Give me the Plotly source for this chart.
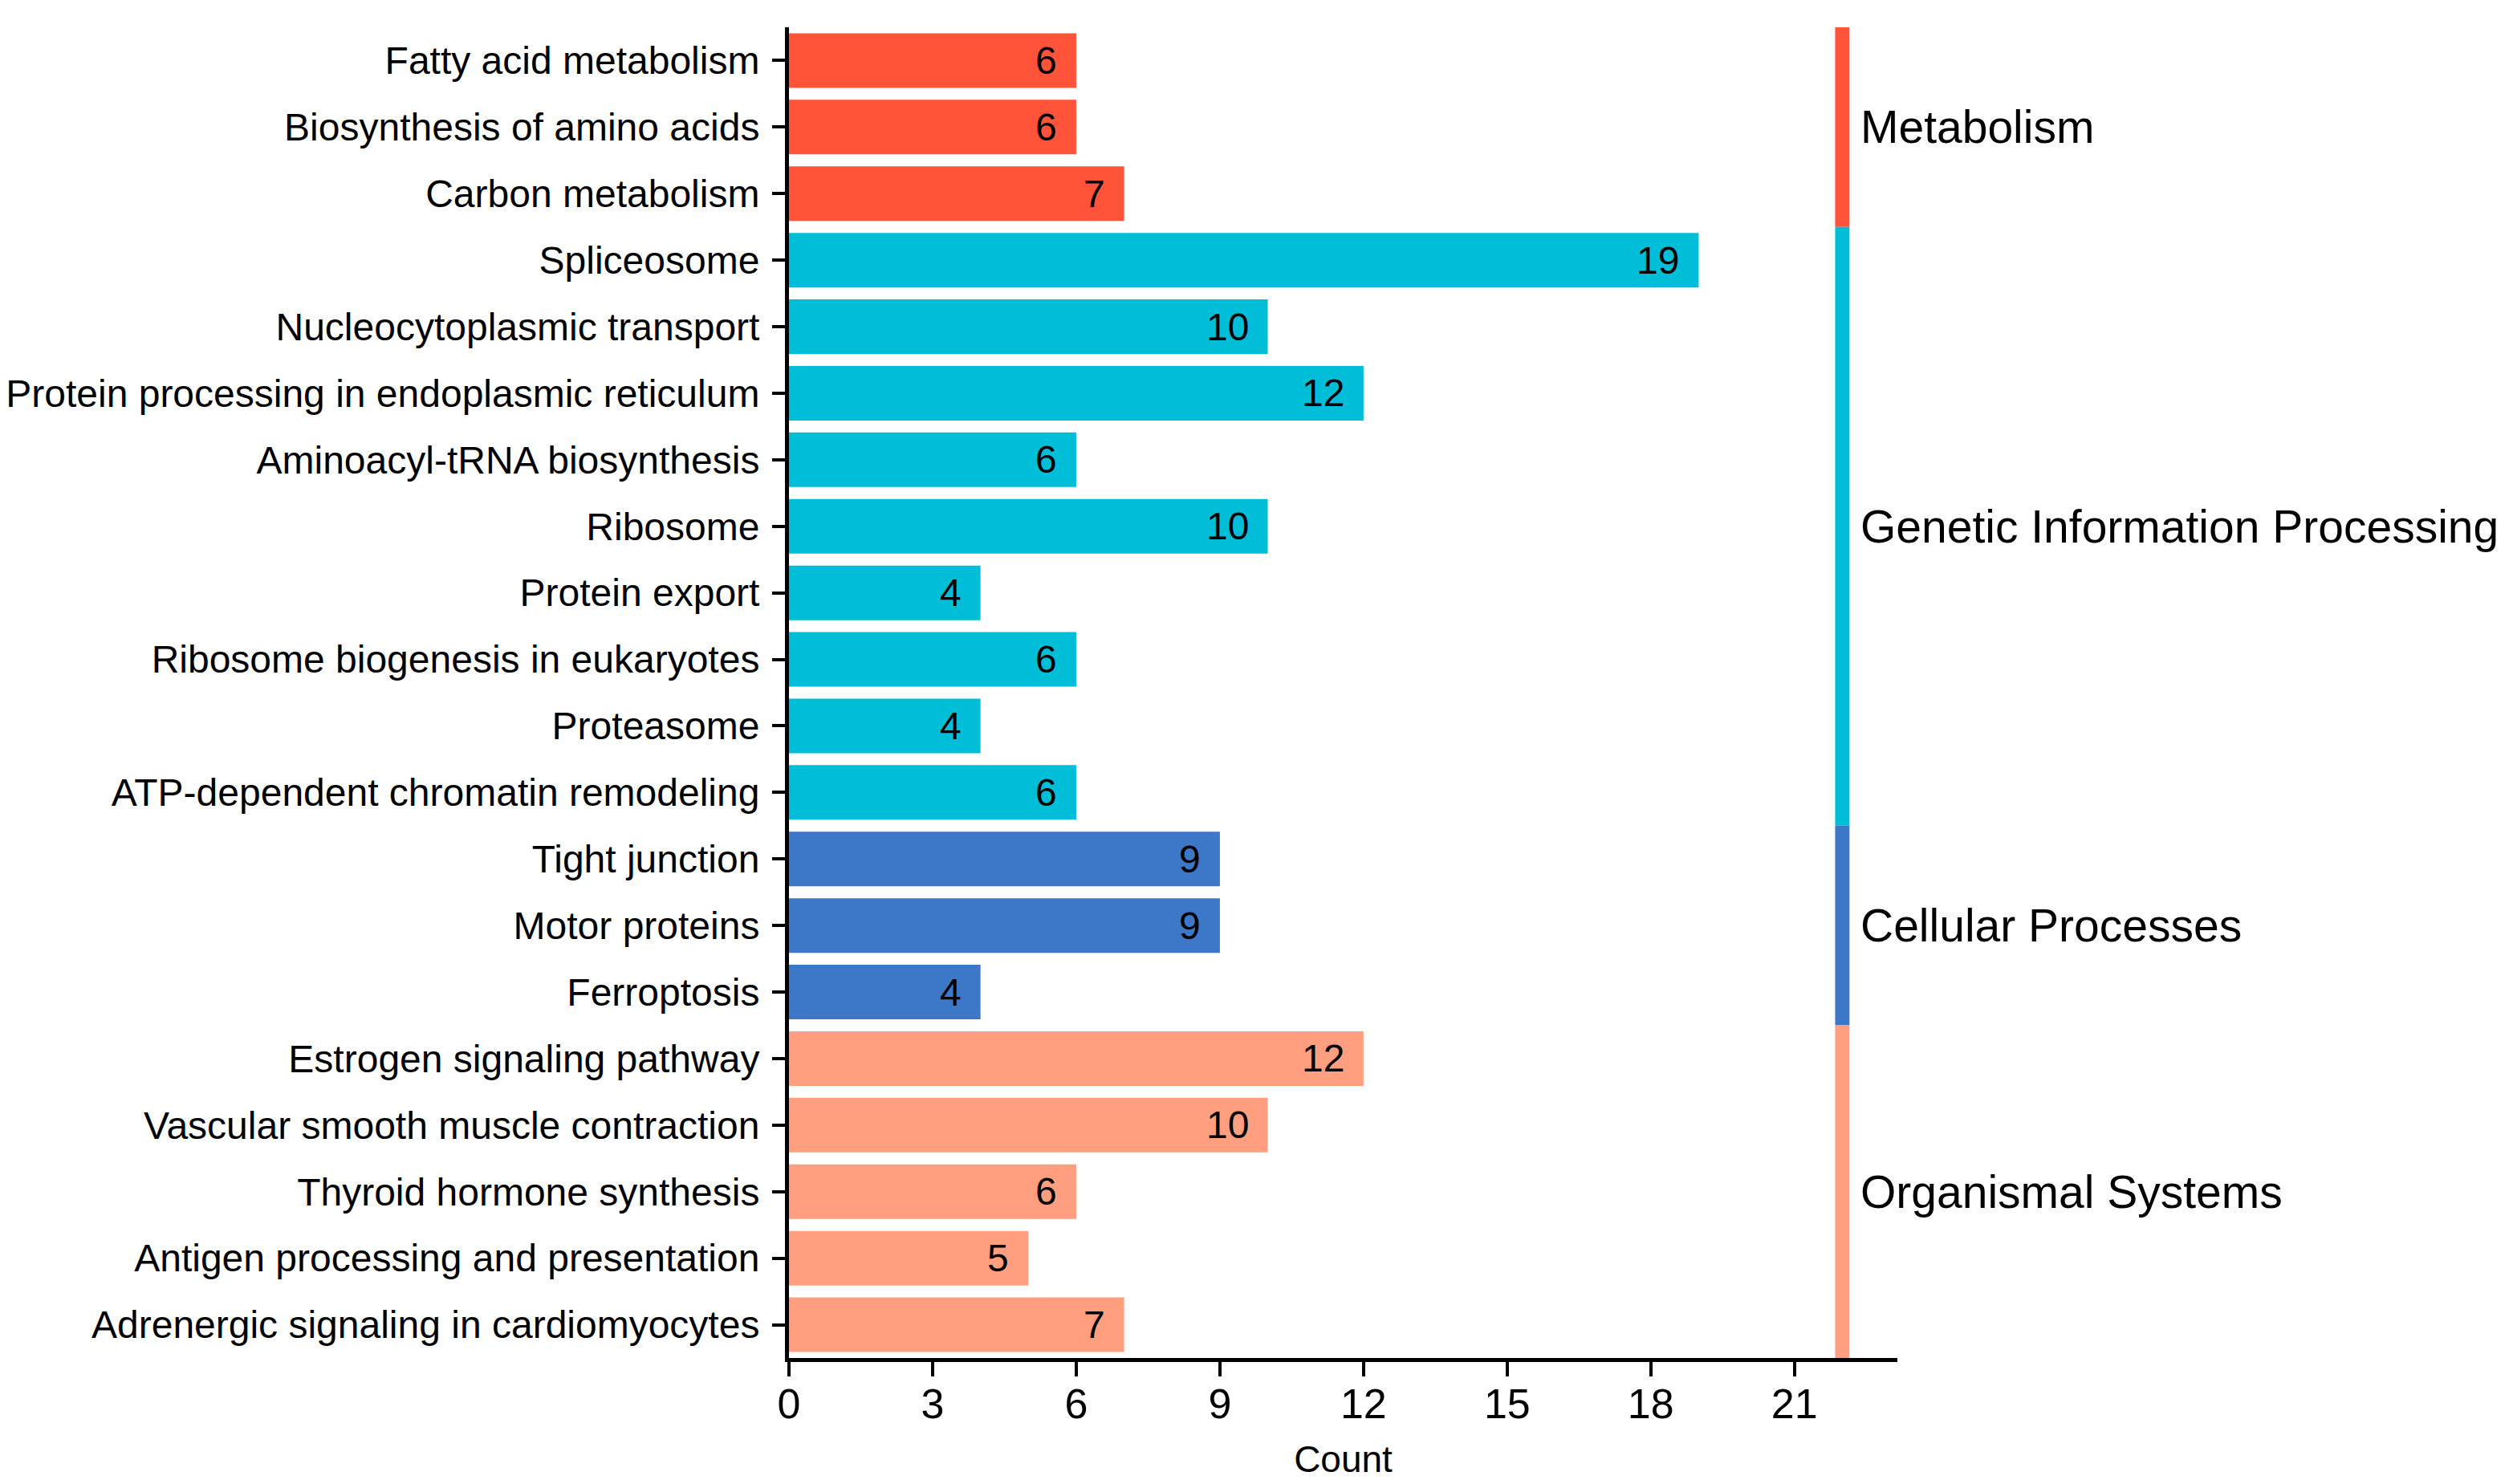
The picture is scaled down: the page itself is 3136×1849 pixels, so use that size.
import plotly.graph_objects as go

pathways = [
    "Fatty acid metabolism", "Biosynthesis of amino acids", "Carbon metabolism",
    "Spliceosome", "Nucleocytoplasmic transport", "Protein processing in endoplasmic reticulum",
    "Aminoacyl-tRNA biosynthesis", "Ribosome", "Protein export",
    "Ribosome biogenesis in eukaryotes", "Proteasome", "ATP-dependent chromatin remodeling",
    "Tight junction", "Motor proteins", "Ferroptosis",
    "Estrogen signaling pathway", "Vascular smooth muscle contraction", "Thyroid hormone synthesis",
    "Antigen processing and presentation", "Adrenergic signaling in cardiomyocytes",
]
counts = [6, 6, 7, 19, 10, 12, 6, 10, 4, 6, 4, 6, 9, 9, 4, 12, 10, 6, 5, 7]
groups = ["Metabolism"] * 3 + ["Genetic Information Processing"] * 9 + \
         ["Cellular Processes"] * 3 + ["Organismal Systems"] * 5
group_names = ["Metabolism", "Genetic Information Processing", "Cellular Processes", "Organismal Systems"]
group_colors = {
    "Metabolism": "#FF533A",
    "Genetic Information Processing": "#00BED7",
    "Cellular Processes": "#3C78C7",
    "Organismal Systems": "#FF9F80",
}
x_ticks = [0, 3, 6, 9, 12, 15, 18, 21]
side_x = 21.85
side_w = 0.3

FONT = "Liberation Sans, Arial, sans-serif"

fig = go.Figure()
fig.add_trace(go.Bar(
    y=pathways, x=counts, orientation="h",
    marker=dict(color=[group_colors[g] for g in groups], line=dict(width=0)),
    showlegend=False, hoverinfo="x+y",
))

# value labels
for p, c in zip(pathways, counts):
    fig.add_annotation(x=c, y=p, text=str(c), xanchor="right", yanchor="middle",
                       xshift=-22, showarrow=False,
                       font=dict(family=FONT, size=48, color="black"))

# side group bars and labels
for g in group_names:
    idx = [i for i, gg in enumerate(groups) if gg == g]
    y0, y1 = idx[0] - 0.5, idx[-1] + 0.5
    fig.add_shape(type="rect", xref="x", yref="y", x0=side_x, x1=side_x + side_w,
                  y0=y0, y1=y1, fillcolor=group_colors[g], line=dict(width=0), layer="above")
    fig.add_annotation(x=side_x + side_w, y=(y0 + y1) / 2, text=g, xanchor="left",
                       yanchor="middle", xshift=12, showarrow=False,
                       font=dict(family=FONT, size=57, color="black"))

fig.update_layout(
    width=3136, height=1849,
    margin=dict(l=975, r=780, t=26, b=165),
    paper_bgcolor="white", plot_bgcolor="white",
    bargap=0.18,
    font=dict(family=FONT, color="black"),
)
fig.update_xaxes(
    range=[0, 23.15], tickvals=x_ticks, ticktext=[str(t) for t in x_ticks],
    showline=True, linecolor="black", linewidth=5,
    ticks="outside", ticklen=18, tickwidth=4, tickcolor="black",
    tickfont=dict(family=FONT, size=52), showgrid=False, zeroline=False,
    ticklabelstandoff=-10, automargin=False,
    title=dict(text="Count", font=dict(family=FONT, size=46), standoff=26),
)
fig.update_yaxes(
    categoryorder="array", categoryarray=pathways,
    range=[len(pathways) - 0.5, -0.5],
    showline=True, linecolor="black", linewidth=5,
    ticks="outside", ticklen=16, tickwidth=4, tickcolor="black",
    tickfont=dict(family=FONT, size=48), showgrid=False, zeroline=False,
    ticklabelstandoff=6, automargin=False,
)

fig.write_html("out.html")
